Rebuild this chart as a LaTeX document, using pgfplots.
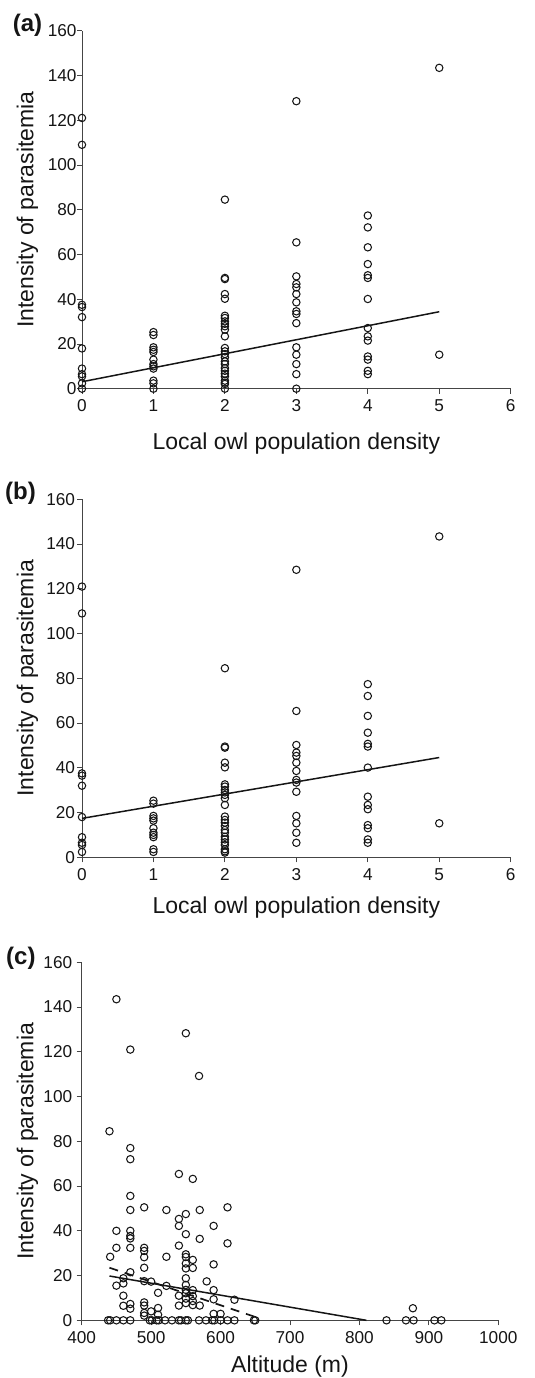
\documentclass[border=0pt]{standalone}
\usepackage{fontspec}
\setmainfont{Liberation Sans}
\usepackage{pgfplots}
\pgfplotsset{compat=1.18}
\usepackage{pgfplotstable}

\definecolor{ink}{HTML}{151515}
\definecolor{axgray}{HTML}{454545}

% infected birds (panels a and b)
\pgfplotstableread{
x y
0 121
0 109
0 37.5
0 36.5
0 32
0 18
0 9
0 6.5
0 5.5
0 2.4
1 25.3
1 24
1 18.5
1 17.4
1 16.4
1 13
1 11
1 10
1 9
1 3.6
1 2.4
2 84.5
2 49.5
2 49
2 42.3
2 40.2
2 32.6
2 31.6
2 30.1
2 29
2 27.9
2 26.4
2 23.4
2 18.2
2 16.7
2 15.5
2 14
2 12.2
2 11
2 9.2
2 8
2 6.7
2 5.5
2 3.6
2 2.7
2 2.1
3 128.5
3 65.4
3 50.2
3 46.8
3 45.3
3 42.3
3 38.6
3 34.6
3 33.4
3 29.3
3 18.5
3 15.2
3 11
3 6.5
4 77.4
4 72.1
4 63.2
4 55.7
4 50.7
4 49.5
4 40.1
4 27.1
4 23.4
4 21.5
4 14.4
4 13
4 8
4 6.5
5 143.4
5 15.2
}\infected

% zero intensity (panel a only)
\pgfplotstableread{
x y
0 0
1 0
2 0
3 0
}\uninfected

% altitude vs intensity (panel c)
\pgfplotstableread{
x y
450 143.5
470 121
550 128.3
569 109.2
440 84.5
470 77
470 72
540 65.4
560 63.2
470 55.6
490 50.5
470 49.3
522 49.3
570 49.3
610 50.5
540 45.3
550 47.5
540 42.2
590 42.2
450 40
470 40
470 37.7
470 36.6
550 38.5
570 36.4
610 34.4
450 32.4
470 32.4
490 32.4
490 31
490 28.2
540 33.4
441 28.4
522 28.4
550 29.5
550 28.3
550 25.4
550 23.2
560 27
560 23.4
590 25
490 23.5
470 21.5
460 18.8
460 16.5
450 15.5
490 17.5
500 17.3
522 15.4
550 18.8
550 15.8
550 13.6
550 12.1
560 13.5
560 10.8
560 8.6
560 6.8
580 17.4
590 13.5
590 9.4
620 9.2
510 12.3
460 11
460 6.5
470 7.3
470 5.2
490 8
490 6.6
490 3.3
490 2.1
500 4
510 5.5
510 2.5
540 11
540 6.6
550 9.7
550 7.7
570 6.6
590 2.9
600 2.9
877 5.4
438 0
441 0
450 0
460 0
470 0
498 0
501 0
508 0
511 0
520 0
530 0
540 0
543 0
550 0
553 0
569 0
579 0
588 0
591 0
600 0
610 0
620 0
648 0
650 0
839 0
867 0
878 0
908 0
918 0
}\altitude

\pgfplotsset{
  owl/.style={
    scale only axis, clip=false,
    axis x line*=bottom, axis y line*=left,
    axis line style={axgray, line width=1pt},
    tick align=outside, major tick length=5pt,
    tick style={axgray, line width=0.9pt},
    ymin=0, ymax=160, ytick={0,20,...,160},
    /pgf/number format/assume math mode=true,
    /pgf/number format/1000 sep={},
    ticklabel style={font=\fontsize{17.2}{20}\selectfont, text=ink},
    xticklabel style={yshift=-2.5pt},
    label style={font=\fontsize{23}{27}\selectfont, text=ink},
    xlabel style={anchor=base},
    ylabel style={anchor=base},
    ylabel={Intensity of parasitemia},
  },
  dot/.style={only marks, mark=o, mark size=3.7pt, ink, line width=1.05pt},
  fit/.style={ink, line width=1.5pt},
}

\begin{document}
\begin{tikzpicture}[panel/.style={anchor=base west, inner sep=0pt, text=ink,
    font=\bfseries\fontsize{24}{28}\selectfont}]
\useasboundingbox (0,0) rectangle (535pt,-1378pt);

% (a)
\begin{axis}[owl, at={(82pt,-388.7pt)}, anchor=south west,
  width=428.7pt, height=358pt,
  xmin=0, xmax=6, xtick={0,...,6},
  xlabel={Local owl population density},
  xlabel style={at={(axis description cs:0.5,-0.171)}},
  ylabel style={at={(axis description cs:-0.1136,0.5)}},
  yticklabel style={xshift=3pt}]
\addplot[dot] table {\infected};
\addplot[dot] table {\uninfected};
\addplot[fit] coordinates {(0,3.1) (5,34.4)};
\end{axis}
\node[panel] at (12.7pt,-31.5pt) {(a)};

% (b)
\begin{axis}[owl, at={(82pt,-857.3pt)}, anchor=south west,
  width=428.7pt, height=358pt,
  xmin=0, xmax=6, xtick={0,...,6},
  xlabel={Local owl population density},
  xlabel style={at={(axis description cs:0.5,-0.1556)}},
  ylabel style={at={(axis description cs:-0.1136,0.5)}},
  yticklabel style={xshift=1.5pt}]
\addplot[dot] table {\infected};
\addplot[fit] coordinates {(0,17.4) (5,44.6)};
\end{axis}
\node[panel] at (5pt,-499.5pt) {(b)};

% (c)
\begin{axis}[owl, at={(81.7pt,-1320.3pt)}, anchor=south west,
  width=416.6pt, height=358pt,
  xmin=400, xmax=1000, xtick={400,500,...,1000},
  xlabel={Altitude (m)},
  xlabel style={at={(axis description cs:0.5,-0.1444)}},
  ylabel style={at={(axis description cs:-0.1162,0.5)}},
  yticklabel style={xshift=-1pt}]
\addplot[dot] table {\altitude};
\addplot[fit] coordinates {(440,19.8) (810,0)};
\addplot[ink, line width=1.7pt, dash pattern=on 9pt off 7pt] coordinates {(440,23.5) (650,1.5)};
\end{axis}
\node[panel] at (6pt,-964.5pt) {(c)};
\end{tikzpicture}
\end{document}
